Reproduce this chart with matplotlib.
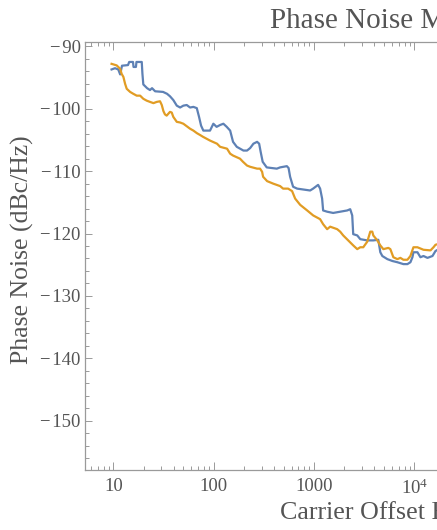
import numpy as np
import matplotlib.pyplot as plt
from matplotlib.ticker import FixedLocator, LogLocator, FuncFormatter, NullFormatter

# measured phase noise, blue trace (Hz, dBc/Hz)
freq_blue = [9.6, 10.4, 11.2, 11.7, 12.2, 14.0, 14.4, 15.7, 15.9, 16.8, 17.0, 19.2, 19.5, 19.9,
             21.7, 23.2, 24.3, 26.1, 31.3, 34.3, 36.7, 39.6, 42.9, 46.3, 49.9, 53.9, 58.2, 62.8,
             67.9, 71.5, 74.9, 78.9, 92.0, 99.3, 107, 116, 125, 135, 146, 156, 170, 198, 215,
             231, 249, 271, 284, 294, 308, 338, 426, 459, 536, 558, 578, 619, 679, 915, 980,
             1099, 1151, 1205, 1233, 1352, 1552, 1824, 2143, 2296, 2404, 2460, 2698, 2891,
             3396, 3899, 4375, 4581, 4797, 5382, 6039, 6776, 7780, 8531, 9141, 9572, 9795,
             10740, 11508, 12331, 13521, 15171, 16256, 18000]
pn_blue = [-93.7, -93.5, -93.7, -94.5, -93.1, -93.0, -92.5, -92.5, -93.3, -93.3, -92.5, -92.5, -94.4, -96.1,
           -96.7, -97.0, -96.7, -97.2, -97.3, -97.6, -98.0, -98.6, -99.5, -99.8, -99.5, -99.4, -99.8, -99.7,
           -99.9, -101.3, -102.7, -103.5, -103.5, -102.4, -102.9, -102.6, -102.4, -102.9, -103.5, -105.3, -106.1, -106.7, -106.7,
           -106.3, -105.6, -105.3, -105.6, -106.9, -108.5, -109.4, -109.6, -109.4, -109.2, -109.5, -110.9, -112.5, -112.8, -113.1, -112.8,
           -112.2, -112.8, -114.4, -116.3, -116.5, -116.7, -116.5, -116.3, -116.1, -117.1, -120.1, -120.3, -120.9,
           -121.1, -121.1, -121.0, -123.0, -123.6, -124.1, -124.4, -124.6, -124.9, -124.9, -124.6, -123.8, -123.0,
           -123.0, -123.8, -123.6, -123.9, -123.6, -122.8, -122.4]

# orange trace
freq_orange = [9.6, 10.8, 11.7, 12.1, 12.6, 13.1, 13.6, 14.7, 15.8, 17.1, 18.5, 19.9, 21.5, 23.2,
               25.1, 27.1, 29.2, 30.4, 31.6, 32.7, 34.0, 36.7, 38.2, 39.6, 42.9, 46.3, 49.9, 53.9,
               58.2, 62.8, 67.9, 73.1, 78.4, 92.0, 108, 116, 136, 146, 156, 183, 196, 215, 231,
               271, 290, 304, 311, 341, 392, 460, 492, 552, 605, 649, 728, 855, 982, 1151, 1233,
               1352, 1449, 1702, 1824, 1954, 2193, 2460, 2698, 2891, 3097, 3396, 3639, 3811,
               3899, 4275, 4581, 4909, 5508, 5768, 6180, 6776, 7261, 7780, 8531, 9141, 9795,
               10740, 12331, 14488, 15524, 16256, 18000]
pn_orange = [-92.8, -93.05, -93.6, -94.4, -94.9, -96.0, -96.8, -97.3, -97.6, -97.9, -97.9, -98.4, -98.7, -98.9,
             -99.1, -98.9, -98.8, -99.4, -100.4, -100.9, -101.1, -100.5, -100.6, -101.3, -102.1, -102.2, -102.4, -102.8,
             -103.2, -103.5, -103.9, -104.2, -104.5, -105.1, -105.6, -106.1, -106.4, -107.2, -107.5, -108.0, -108.5, -109.1, -109.3,
             -109.6, -109.6, -110.1, -110.9, -111.6, -112.0, -112.4, -112.8, -112.8, -113.2, -114.4, -115.4, -116.3, -117.1, -117.7, -118.5,
             -119.3, -118.9, -119.3, -119.7, -120.3, -121.1, -121.9, -122.5, -122.2, -122.2, -121.3, -119.7, -119.7,
             -120.3, -121.1, -121.9, -122.5, -122.3, -122.5, -123.8, -124.1, -123.9, -124.2, -124.2, -123.6, -122.2,
             -122.2, -122.6, -122.7, -122.2, -121.8, -121.6]

xticks = [10, 100, 1000, 10000]
xticklabels = ['10', '100', '1000', r'$\mathregular{10^4}$']
yticks = [-150, -140, -130, -120, -110, -100, -90]

plt.rcParams['font.family'] = ['Liberation Serif', 'DejaVu Serif']
plt.rcParams['mathtext.fontset'] = 'stix'

text_col = '#555555'
frame_col = '#9a9a9a'


def xfmt(v, pos):
    for t, lab in zip(xticks, xticklabels):
        if abs(v - t) < 1e-6 * t:
            return lab
    return ''


def yfmt(v, pos):
    # mathematica style minus with a small gap
    if v < 0:
        return '\u2212\u200a%d' % abs(v)
    return '%d' % v


fig = plt.figure(figsize=(4.37, 5.30), dpi=100)
# the frame runs past the right edge of the picture, as in the reference crop
ax = fig.add_axes([85 / 437, 60 / 530, 530 / 437, 428 / 530])

ax.plot(freq_blue, pn_blue, color='#5e81b5', lw=1.6)
ax.plot(freq_orange, pn_orange, color='#e19c24', lw=1.6)

ax.set_xscale('log')
ax.set_xlim(5.22, 1e6)
ax.set_ylim(-157.9, -89.3)

ax.xaxis.set_major_locator(FixedLocator(xticks))
ax.xaxis.set_major_formatter(FuncFormatter(xfmt))
ax.xaxis.set_minor_locator(LogLocator(base=10, subs=np.arange(2, 10)))
ax.xaxis.set_minor_formatter(NullFormatter())
ax.yaxis.set_major_locator(FixedLocator(yticks))
ax.yaxis.set_major_formatter(FuncFormatter(yfmt))
ax.yaxis.set_minor_locator(FixedLocator(np.arange(-158, -88, 2)))

for s in ax.spines.values():
    s.set_color(frame_col)
    s.set_linewidth(0.9)

ax.tick_params(which='both', direction='in', top=True, right=True, color=frame_col, width=0.7,
               labelcolor=text_col, labelsize=13.5)
ax.tick_params(axis='x', which='major', length=5.5, pad=6)
ax.tick_params(axis='y', which='major', length=5, pad=3)
ax.tick_params(which='minor', length=2.8)

fig.text(270 / 437, 1 - 28 / 530, 'Phase Noise Measurement', fontsize=21, color=text_col,
         ha='left', va='baseline')
fig.text(280 / 437, 10 / 530, 'Carrier Offset Frequency (Hz)', fontsize=18.7, color=text_col,
         ha='left', va='baseline')
fig.text(22 / 437, 1 - 250 / 530, 'Phase Noise (dBc/Hz)', fontsize=18.5, color=text_col,
         rotation=90, ha='center', va='center')

fig.savefig('out.png', dpi=100)
